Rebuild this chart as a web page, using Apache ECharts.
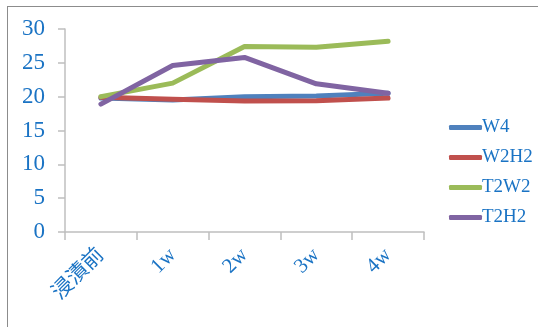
<!DOCTYPE html>
<html>
<head>
<meta charset="utf-8">
<script src="https://cdn.jsdelivr.net/npm/echarts@6/dist/echarts.min.js"></script>
<style>
  html, body { margin: 0; padding: 0; background: #fff; }
  #wrap { position: relative; width: 538px; height: 327px; }
  #chart { width: 538px; height: 327px; }
  /* frame around the plot like the pasted excel chart */
  #frame { position: absolute; left: 7px; top: 6px; right: -2px; bottom: -2px;
           border-top: 1.5px solid #8c8c8c; border-left: 1.5px solid #8c8c8c; pointer-events: none; }
</style>
</head>
<body>
<div id="wrap">
  <div id="chart"></div>
  <div id="frame"></div>
</div>
<script>
var categories = ['浸漬前', '1w', '2w', '3w', '4w'];
var w4 = [19.8, 19.5, 20.0, 20.1, 20.5];
var w2h2 = [19.9, 19.6, 19.35, 19.4, 19.8];
var t2w2 = [20.0, 22.0, 27.4, 27.3, 28.2];
var t2h2 = [18.9, 24.6, 25.8, 21.9, 20.5];
var yTicks = [0, 5, 10, 15, 20, 25, 30];

var textBlue = '#1a73c4';
var font = '"Liberation Serif", "DejaVu Serif", "Noto Sans CJK JP", serif';

function line(name, data, color) {
    return {
        name: name,
        type: 'line',
        data: data,
        showSymbol: false,
        symbol: 'none',
        color: color,
        lineStyle: { width: 5, color: color, cap: 'round', join: 'round' },
        animation: false
    };
}

var chart = echarts.init(document.getElementById('chart'));
chart.setOption({
    backgroundColor: '#fff',
    animation: false,
    grid: { left: 65, right: 114, top: 29, bottom: 95 },
    legend: {
        orient: 'vertical',
        left: 444,
        top: 113,
        itemWidth: 33,
        itemHeight: 5,
        itemGap: 11,
        icon: 'roundRect',
        data: ['W4', 'W2H2', 'T2W2', 'T2H2'],
        textStyle: { color: textBlue, fontFamily: font, fontSize: 19, padding: [0, 0, 0, -5] }
    },
    xAxis: {
        type: 'category',
        data: categories,
        boundaryGap: true,
        axisLine: { lineStyle: { color: '#bfbfbf', width: 1.5 } },
        axisTick: { show: true, length: 8, lineStyle: { color: '#bfbfbf', width: 1.5 } },
        axisLabel: { rotate: 45, margin: 20, color: textBlue, fontFamily: font, fontSize: 21 }
    },
    yAxis: {
        type: 'value',
        min: yTicks[0],
        max: yTicks[yTicks.length - 1],
        interval: 5,
        axisLine: { show: true, lineStyle: { color: '#bfbfbf', width: 1.5 } },
        axisTick: { show: true, length: 7, lineStyle: { color: '#bfbfbf', width: 1.5 } },
        splitLine: { show: false },
        axisLabel: { margin: 20, color: textBlue, fontFamily: font, fontSize: 23 }
    },
    series: [
        line('W4', w4, '#4f81bd'),
        line('W2H2', w2h2, '#c0504d'),
        line('T2W2', t2w2, '#9bbb59'),
        line('T2H2', t2h2, '#8064a2')
    ]
});
</script>
</body>
</html>
